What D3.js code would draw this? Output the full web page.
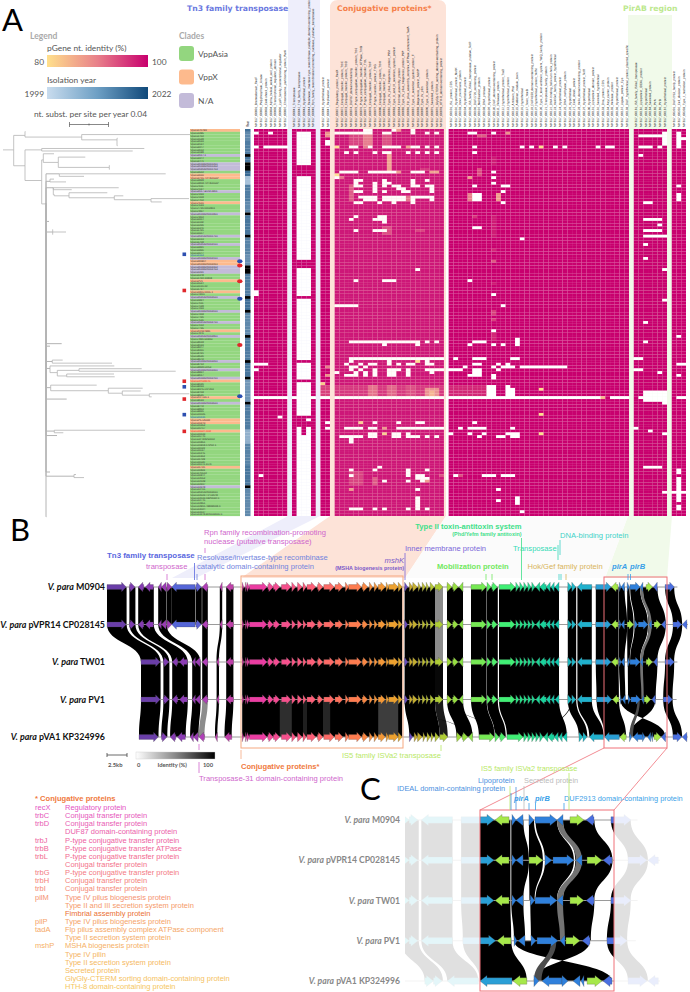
<!DOCTYPE html>
<html>
<head>
<meta charset="utf-8">
<script src="https://d3js.org/d3.v7.min.js"></script>
<style>
  html, body { margin: 0; padding: 0; background: #fff; }
  svg { display: block; }
</style>
</head>
<body>
<svg id="chart" width="690" height="992"></svg>
<script>
'use strict';

// ---- panel A data ----
var columnNames = [
  'MK817_00001_Bromodomain_RecF','MK817_00002_Polyphosphate_kinase','MK817_00003_Cold-shock_protein','MK817_00004_Alpha_helical_coiled_coil_protein',
  'MK817_00005_Transcriptional_regulator_domain','MK817_00006_LysR_family_transcriptional_regulator','MK817_00007_Chromosome_partitioning_protein_ParA',null,
  'MK817_00041_Transposase','MK817_00042_Tn3_family_transposase','MK817_00043_Hypothetical_protein','MK817_00044_Resolvase_invertase-type_recombinase_catalytic_domain-containing_protein','MK817_00045_Rpn_family_recombination-promoting_nuclease_putative_transposase',null,
  'MK817_00046_Hypothetical_protein','MK817_00047_Replication_protein',null,
  'MK817_00071_Regulatory_protein_RecX','MK817_00072_Conjugal_transfer_protein_TrbC','MK817_00073_Conjugal_transfer_protein_TrbD','MK817_00074_DUF87_domain-containing','MK817_00075_P-type_conjugative_transfer_protein_TrbJ','MK817_00076_P-type_conjugative_transfer_ATPase_TrbB','MK817_00077_P-type_conjugative_transfer_TrbL','MK817_00078_Conjugal_transfer_protein_TrbF','MK817_00079_P-type_transfer_protein_TrbG','MK817_00080_Conjugal_transfer_protein_TrbH','MK817_00081_Conjugal_transfer_TrbI','MK817_00082_Type_IV_pilus_biogenesis_protein_PilM','MK817_00083_Type_II_and_III_secretion_system_protein','MK817_00084_Fimbrial_assembly_protein','MK817_00085_Type_IV_pilus_biogenesis_protein_PilP','MK817_00086_Flp_pilus_assembly_complex_ATPase_component_TadA','MK817_00087_Type_II_secretion_system_protein_F','MK817_00088_Biogenesis_protein_MshP','MK817_00089_Type_IV_pilin','MK817_00090_Type_II_secretion_protein','MK817_00091_Secreted_protein','MK817_00092_GlyGly-CTERM_sorting_domain-containing_protein','MK817_00093_HTH-8_domain-containing_protein',null,
  'MK817_00101_ISL_protein_CDS','MK817_00102_Hypothetical_protein_MshK','MK817_00103_Inner_membrane_protein','MK817_00104_Hypothetical_protein','MK817_00105_IS5_family_ISVa2_transposase_putative_TetR','MK817_00106_DUF2726_containing_protein','MK817_00107_Mobilization_protein','MK817_00108_DNA_primase','MK817_00109_Hypothetical_protein','MK817_00110_DUF_domain-containing_protein','MK817_00111_Relaxase_protein','MK817_00112_Hypothetical_protein_TraD','MK817_00113_Hypothetical_protein','MK817_00114_Antitoxin_Phd','MK817_00115_Addiction_module_toxin','MK817_00116_Hypothetical','MK817_00117_Toxin_YoeB','MK817_00118_DUF4158_domain-containing_protein','MK817_00119_Hypothetical_protein_YefM','MK817_00120_Type_II_toxin-antitoxin_system_YafQ_family_protein','MK817_00121_Transposase_family_protein','MK817_00122_DNA-binding_helix-turn-helix_protein','MK817_00123_Hok/Gef_family_protein_hypothetical','MK817_00124_Hypothetical_protein','MK817_00125_DNA_methylase_protein','MK817_00126_Hypothetical','MK817_00127_Cold_shock_protein','MK817_00128_Helix_domain-containing_protein','MK817_00129_Hypothetical_protein_TetR','MK817_00130_Hypothetical','MK817_00131_Lipoprotein_domain_protein','MK817_00132_Secreted_hypothetical','MK817_00133_Dna_protein_CDS','MK817_00134_Acyl_carrier_protein','MK817_00135_Helicase_protein','MK817_00136_Hypothetical_protein','MK817_00137_Ligase_protein_Cys','MK817_00138_DUF_hypothetical_protein_plasmid_specific',null,
  'MK817_00181_IS5_family_ISVa2_transposase','MK817_00182_Lipoprotein_IDEAL_protein','MK817_00183_Hypothetical','MK817_00184_Secreted_protein','MK817_00185_PirA','MK817_00186_PirB','MK817_00187_Hypothetical_protein',null,
  'MK817_00201_DUF2913_family_protein','MK817_00202_Cell_division_protein','MK817_00203_Type_I_restriction_protein'
];

var strainNames = ('Vpara040493 Vpara1295 Vpara1412 Vpara1528 Vpara2033 Vpara2134 Vpara2247 Vpara3012 Vpara3198 Vpara2017-1 Vpara3344 Vpara3471 Vpara2019AP0001251 Vpara2019AP0001352 Vpara2020AP0001453 Vpara3562 Vpara3650 Vpara3715-TPTG15HP Vpara3828 Vpara3919-TPTG16HP Vpara4011 Vpara4127 Vpara2017-BOM-2901 Vpara4233 Vpara4318 Vpara4402 Vpara4516 Vpara4623 Vpara4720-0002801 Vpara4837 Vpara2018AP0001851 Vpara4912 Vpara5004 Vpara5119 Vpara5230 Vpara5346 Vpara5421 Vpara5507 Vpara2021AP0001751 Vpara5613 Vpara5708 Vpara2020AP0002151 Vpara5821 Vpara5936 Vpara6047 Vpara6152 Vpara2019AP0002151 VparaM0904 Vpara2018AP0002251 Vpara2018AP0002352 Vpara2018AP0002453 Vpara6231 Vpara6348 Vpara6422-10818 VparaPV1 Vpara6534 Vpara6610-22 Vpara6727 Vpara6815-0005-1 VparaTW01 Vpara2020AP0002551 Vpara6924 Vpara7011 Vpara7128 Vpara7233 Vpara2019AP0002651 Vpara7319 Vpara7420 Vpara7536 Vpara2021AP0002751 Vpara7612 Vpara7735 VparaKP324996 Vpara7840 Vpara2020AP0002851 Vpara7926-5030H Vpara8018 Vpara8133 Vpara8247 Vpara8316 Vpara8421 Vpara8530 Vpara8642 Vpara2018AP0003251 Vpara8712 Vpara8828-UP53 Vpara2018AP0003351 Vpara8934 Vpara9017 Vpara2019AP0003451 VparaCP028145 Vpara9120 Vpara9233 Vpara9345-OP-203 Vpara9419 Vpara9526 VparaKP-136-1 Vpara9633 Vpara2019AP0003551 Vpara9742 Vpara9813 Vpara9920 Vpara10025 Vpara10131 VparaPS-UNAM Vpara10243 Vpara10352 Vpara10417 Vpara10524-11M Vpara10633 Vpara10740 VparaDP-WGS0002 Vpara10851 Vpara10918-14P02-1 Vpara11022 Vpara11137 Vpara11245 Vpara11352 Vpara11429 Vpara11530 Vpara11641-1170 Vpara11726 Vpara11833 Vpara040512 Vpara11944 Vpara12052 Vpara12129 Vpara12237 Vpara12348 Vpara12415 Vpara2021AP0003651 Vpara12522-TP-12048 Vpara12633-19P0032-0 Vpara12740 Vpara12851 Vpara12916-49829008-0 Vpara13024 Vpara13137 Vpara13248-9P0033000-0 Vpara13317').split(' ');

// clade of each row is VppAsia unless listed here
var vppXRows = [0,16,17,26,47,48,54,58,72,90,96,104,105,108,121];
var naRows = [9,12,13,14,22,30,38,41,46,49,50,51,60,65,69,74,83,86,89,98,128];
var redLabelRows = [90,108];
var blueLabelRows = [45,103];

// isolation year: [first row, last row, year]
var yearRuns = [[0,0,2016],[1,3,2012],[4,8,2014],[10,11,2015],[15,16,2017],[17,19,2003],[20,25,2014],[26,29,2012],[31,37,2015],[39,44,2013],[45,48,2011],[52,59,2014],[61,64,2016],[66,73,2012],[75,82,2014],[84,88,2015],[90,97,2010],[99,107,2014],[108,112,2006],[113,120,2013],[121,127,2015],[129,138,2012]];

// missing genes: [first row, last row, first column, last column]
var missingCells = [
  [1,1,0,0],[1,1,3,3],[6,6,0,0],[6,6,2,6],[58,59,0,0],[84,84,0,2],[86,86,0,0],[103,103,5,5],[124,124,1,1],
  [1,8,9,11],[9,12,9,11],[17,22,9,11],[23,26,9,11],[27,38,9,11],[39,41,9,11],[42,46,9,11],[50,54,9,11],[55,57,9,11],[58,59,9,11],[61,65,9,11],[66,69,9,11],[70,72,9,11],[73,74,9,11],[75,82,9,11],[84,89,9,11],[91,102,9,11],[104,104,11,11],[107,109,9,9],[107,109,11,11],[110,121,9,11],[122,138,9,11],
  [4,5,15,15],[105,105,15,15],[107,107,15,15],
  [1,1,17,22],[0,1,23,24],[1,1,27,28],[0,0,29,29],[0,1,33,33],[1,1,36,36],[1,1,38,38],
  [6,6,20,21],[6,6,24,24],[6,6,27,30],[6,6,33,33],[6,6,34,34],[6,6,36,36],[6,6,38,38],
  [8,8,19,19],[8,8,21,21],[8,8,25,25],[8,8,27,28],[8,8,32,32],[8,8,34,34],[8,8,36,36],[8,8,38,38],
  [15,15,18,21],[15,15,24,29],[15,15,33,33],[15,15,34,35],[17,17,17,17],
  [18,18,21,22],[18,18,27,27],[18,18,33,33],[18,18,36,36],[19,19,21,21],[19,19,25,25],[19,19,27,28],[19,19,33,33],
  [20,20,21,22],[20,20,25,25],[20,20,27,27],[20,20,29,30],[20,20,33,34],[20,20,36,37],[21,21,25,25],[21,21,30,31],[21,21,37,37],
  [22,22,21,22],[22,22,25,25],[22,22,27,27],[22,22,31,32],[22,22,37,37],
  [24,24,22,25],[24,24,27,31],[24,24,33,34],[24,24,35,37],[25,25,23,25],[25,25,27,31],[25,25,33,33],[25,25,37,37],
  [26,26,21,22],[26,26,26,26],[26,26,29,29],[26,26,33,33],
  [31,31,21,21],[31,31,26,27],[32,32,20,20],[32,32,25,27],[33,33,27,27],[36,36,21,21],[36,36,25,27],
  [50,50,34,34],[54,54,21,21],[54,54,27,28],[54,54,29,29],[63,63,17,20],[63,63,21,21],
  [76,76,20,34],[77,77,27,27],[77,77,34,34],[76,76,36,36],[76,76,38,38],
  [82,82,20,37],[82,82,38,39],[83,83,20,20],[83,83,28,28],[83,83,36,36],
  [84,84,19,19],[84,84,22,22],[84,84,24,25],[84,84,28,28],[84,84,30,30],[84,84,32,33],[84,84,36,37],
  [85,85,20,21],[85,85,23,23],[86,86,20,20],[86,86,22,22],[86,86,25,25],[86,86,28,30],[86,86,32,32],[86,86,36,39],[86,86,41,43],
  [87,87,17,17],[87,87,21,21],[87,87,23,23],[87,87,25,25],[87,87,28,29],[87,87,32,32],[87,87,37,37],
  [88,88,19,21],[88,88,23,23],[88,88,25,25],[88,88,28,29],[88,88,32,32],
  [105,105,25,25],[105,105,30,30],[105,105,34,35],
  [107,107,19,22],[107,107,24,25],[107,107,30,37],[107,107,38,39],[109,109,24,25],[109,109,29,30],[109,109,32,32],[110,110,18,22],[110,112,20,20],[110,110,24,25],[110,110,29,30],[110,110,32,34],[110,110,36,36],[110,110,38,38],
  [121,121,26,26],[122,122,20,20],[122,122,25,25],[122,124,32,32],[122,122,36,36],[124,124,20,20],[124,124,34,35],[125,125,34,36],[126,126,27,27],[126,126,32,32],[126,126,35,35],[129,129,34,34],[132,135,34,34],[136,136,20,22],[136,136,25,25],[136,136,27,27],[136,136,32,32],[136,136,34,34],[136,136,36,36],
  [1,1,45,46],[1,1,50,50],[6,6,46,46],[6,6,56,56],[6,6,58,58],[6,6,63,63],[6,6,65,65],[6,6,72,72],[6,6,74,75],[6,6,79,79],[6,6,81,83],[6,6,85,85],[6,6,89,89],
  [2,2,79,79],[2,2,81,86],[1,5,86,87],[1,5,89,89],[3,3,89,90],[8,8,46,46],[9,9,81,81],[11,14,79,79],
  [15,15,50,50],[17,17,50,50],[19,19,50,50],[20,20,46,46],[20,20,52,53],[20,20,89,89],[22,22,52,52],[23,25,46,47],[23,25,89,89],[26,26,52,52],[26,26,82,83],
  [32,32,82,85],[34,34,85,85],[35,35,46,47],[36,36,82,85],[38,38,82,86],[39,39,56,56],[41,41,82,82],[46,46,82,82],[50,50,86,87],[54,54,45,45],[59,59,50,50],[61,61,86,87],[63,63,52,52],[69,69,82,82],
  [72,72,50,50],[74,74,79,79],[74,74,89,89],[75,77,55,55],[75,75,87,87],[76,76,46,48],[76,76,79,79],[76,76,82,82],[77,77,45,45],[77,77,50,50],[77,77,52,52],
  [82,82,42,42],[82,82,46,48],[82,82,54,55],[82,82,79,81],[84,84,46,47],[84,84,51,51],[84,84,53,53],[84,84,89,91],
  [85,85,44,44],[85,85,50,50],[85,85,52,54],[85,85,56,65],[86,88,46,47],[86,86,51,51],[86,86,79,81],[87,87,85,85],[88,88,45,47],[88,88,50,50],[88,88,89,89],[89,89,50,50],
  [92,95,49,50],[92,95,53,53],[93,95,54,54],
  [96,96,0,6],[96,96,8,12],[96,96,14,15],[96,96,17,39],[96,96,41,72],[96,96,75,79],[96,96,81,87],[96,96,89,91],[94,97,82,86],[98,98,86,86],
  [105,105,46,46],[107,107,43,43],[107,107,45,48],[107,107,54,54],[107,107,80,80],[108,108,83,83],[109,109,41,41],[109,109,45,45],[109,109,48,48],[109,109,53,55],[109,109,86,86],[110,110,47,47],[110,110,51,52],[110,110,54,55],
  [121,121,82,85],[122,123,89,89],[124,124,42,42],[124,124,48,50],[124,124,52,54],[125,131,89,89],[128,130,79,79],[129,129,51,51],[130,130,86,90],[133,133,51,51],[132,134,55,55],[132,133,89,89],[135,136,89,89],[137,137,56,56]
];

// below-100% identity: [first row, last row, first column, last column, identity]
var lowIdentityCells = [
  [1,2,15,15,88],[1,5,20,22,96],[1,6,23,24,91],[1,5,27,28,95],[0,0,30,30,88],
  [6,6,17,17,80],[6,6,32,32,87],[9,14,28,28,87],[15,15,30,30,88],[15,15,37,38,87],[16,16,17,17,80],[17,17,18,18,92],[20,25,20,20,94],[24,25,32,32,92],
  [14,14,35,36,97],[35,37,27,28,95],[36,36,34,35,96],
  [2,2,47,48,93],[1,1,53,53,88],[14,16,47,47,94],[17,17,45,45,87],[23,25,45,45,90],[23,25,51,51,87],[10,12,50,50,98],[31,38,50,50,98],[43,43,50,50,97],[47,47,50,50,93],[55,55,50,50,98],[65,66,50,50,95],[68,68,50,50,95],
  [31,31,46,46,96],[6,6,60,60,80],[73,75,50,50,97],
  [83,83,34,34,80],[85,85,59,59,80],[85,85,15,15,90],[88,88,15,15,88],
  [91,91,14,14,82],[92,95,14,15,95],[92,95,17,39,97],[92,95,24,25,92],[92,95,28,29,93],[92,95,32,33,95],[93,95,36,38,89],[94,95,37,37,85],[92,95,41,48,97],
  [93,93,60,60,80],[96,96,73,73,84],[102,102,60,60,80],
  [105,105,22,22,82],[105,105,46,46,90],[107,107,27,27,88],[109,109,27,27,82],[109,109,60,60,80],
  [123,127,20,22,96],[125,127,25,25,94],[126,126,36,36,88],[129,129,20,20,88],[124,124,43,43,94],[124,124,39,39,95]
];

// strain markers beside the tree and on the clade strip
var treeSquareRows = [[45,'blue'],[58,'red'],[90.6,'red'],[92.6,'blue'],[97,'red'],[102.6,'blue'],[108.6,'red']];
var cladeDotRows = [[47.5,'blue'],[49,'red'],[54.7,'red'],[61,'blue'],[77.6,'red'],[96,'blue']];

// tree: id, parent, distance, row
var treeNodes = [
  ['r',null,3,7],['n1','r',13.7,7],['n2','n1',25,1.8],['t0','n2',25.3,0.4],['n3','n2',81.7,2.4],['t1','n3',190,1.5],['n4','n3',117,3.4],['t2','n4',117.5,2.8],['t3','n4',117.5,5.5],
  ['n5','n1',25,12.7],['n6','n5',41.7,7],['t4','n6',144.3,6.5],['t5','n6',132.7,7.4],['n7','n5',41.7,18],['n8','n7',43.3,10.6],['t6','n8',54,8.4],['n9','n8',58.3,11.5],['t7','n9',85.3,9.6],['n9b','n9',109.3,13.3],['t7b','n9b',109.7,12.6],['t7c','n9b',109.7,14],
  ['bb','n7',46,26.4],['n10','bb',59.3,15.6],['t8','n10',165.7,15.6],['t9','n10',84,16.5],['n11','bb',50,18.3],['t10','n11',54,17.5],['t11','n11',66,18.5],
  ['n12','bb',53.3,20.6],['t12','n12',118.7,20.6],['t13','n12',71.7,21.3],['n13','n12',54.3,23.1],['n14','n13',69,23.5],['t14','n14',107.3,22.4],['n15','n14',114.3,24.2],['t15','n15',123.3,23.5],['n16','n15',151,24.9],['t16','n16',189,24.5],['t17','n16',161.7,25.7],
  ['t18','bb',49,32.7],['n17','bb',52.7,36.5],['t19','n17',66,36.5],['t19b','n17',52.9,35.6],['t19c','n17',52.9,37.4],['t20','bb',61.7,76.6],['t21','bb',50,77.5],
  ['n18','bb',52.3,83],['t22','n18',62.7,82.5],['t23','n18',112,83.6],['n19','bb',50,85.5],['t24','n19',114.3,84.6],['n20','n19',57.3,87],['n21','n20',79,86.2],['t25','n21',141.7,85.6],['t26','n21',175.7,86.5],['n22','n20',66.7,88.2],['t27','n22',114,87.5],['t28','n22',114.7,88.5],
  ['n23','bb',50.7,92.4],['t29','n23',96.7,91.5],['n24','n23',108.3,93.5],['t30','n24',142.7,92.6],['n25','n24',122.3,94.4],['t31','n25',140.7,93.6],['n26','n25',149.3,95.1],['t32','n26',189.3,94.6],['t33','n26',151.7,95.7],['t34','bb',66.7,96.5],
  ['n27','bb',54.3,108],['t35','n27',145,107.7],['t36','n27',63.3,108.6],['t37','bb',57,109.6],['t38','bb',50,122.7],['n28','bb',74,124.2],['t39','n28',76,123.6],['t40','n28',84,124.7],['bbEnd','bb',46.3,138.8]
];

// ---- panels B and C data (positions in kb) ----
var strains = [['V. para',' M0904'],['V. para',' pVPR14 CP028145'],['V. para',' TW01'],['V. para',' PV1'],['V. para',' pVA1 KP324996']];
var trackSpan = [[0,71.3],[0,72.6],[4.25,71.3],[4.25,71.2],[4,72.6]];

// start, end, strand of the genes shared by all plasmids
var sharedGenes = [
  [0,2.4,1],[2.8,3.5,1],[3.9,4.6,-1],[4.8,5.8,-1],[6.4,6.8,-1],[6.8,7.4,-1],[7.5,8.1,1],[8.1,11,-1],[11.1,11.8,1],[11.9,12.6,-1],[14.1,14.4,-1],[14.9,15.8,-1],
  [16.9,17.1,1],[17.3,17.5,1],[17.5,17.8,1],[17.8,20,1],[20.1,20.8,1],[20.8,21.6,1],[21.8,23,1],[23.1,23.6,1],[23.8,24.4,1],[24.5,24.9,1],[25,26.1,1],[26.3,27,1],[27.1,28.4,1],[28.5,29.5,1],
  [29.8,30.2,1],[30.2,31.8,1],[31.9,32.6,1],[32.8,33.2,1],[33.4,33.8,1],[33.9,34.8,1],[34.9,35.2,1],[35.2,36.4,1],[36.4,36.9,1],
  [37.2,37.6,1],[37.8,38.2,1],[38.2,38.8,1],[38.9,39.2,1],[39.4,39.8,1],[39.9,40.2,1],[40.4,40.9,1],[41,42,1],[42.5,43.1,1],[43.2,43.9,1],[44,44.5,-1],
  [45.5,47.4,1],[47.5,48,1],[48.1,48.8,1],[49,51,1],[51.1,51.5,1],[51.6,52,1],[52.1,52.5,1],[52.6,53,1],[53.1,53.5,1],[53.6,54.1,-1],[54.1,54.9,-1],[54.9,55.4,-1],[55.5,55.9,-1],[56,56.5,-1],
  [57.6,58.1,1],[58.1,58.6,1],[58.8,60.6,-1]
];
// [from kb, to kb, shift] on each plasmid relative to M0904
var trackShifts = [
  [],[],
  [[0,7.45,4.25],[14,14.5,-0.4]],
  [[0,7.45,4.25],[14,14.5,-0.4]],
  [[0,7.45,4],[11.8,12.7,-0.4],[14,14.5,-0.6],[14.8,15.9,-0.2],[37,42.1,0.6],[42.4,44.6,1.2],[45.4,56.6,1],[57.5,58.7,1.4],[58.7,60.7,1.5]]
];
var absentOnTrack = [null,null,[7.45,11.85],[7.45,11.85],[7.45,11.85]];

// genes of the PirAB region, different on each plasmid: start, end, strand, kind
var regionGenes = [
  [[61.1,63,1,'cyan'],[63.06,63.87,-1,'lime'],[64.04,64.27,1,'blue'],[64.27,64.68,-1,'blue'],[65.02,65.31,1,'blue'],[65.37,66.64,1,'blue'],[66.64,66.99,-1,'blue'],[67.39,68.2,1,'lime'],[68.32,68.78,-1,'royal'],[69.76,70.92,1,'royal']],
  [[61.1,63,1,'cyan'],[63.06,63.87,-1,'lime'],[64.04,64.27,1,'blue'],[64.27,64.68,-1,'blue'],[65.02,65.83,1,'lime'],[65.95,66.35,1,'blue'],[66.41,67.62,1,'blue'],[67.74,68.09,-1,'blue'],[68.38,69.24,1,'lime'],[69.3,69.82,-1,'royal'],[70.75,71.84,1,'royal'],[71.9,72.5,-1,'royal']],
  [[61.1,63,1,'cyan'],[63.06,63.87,-1,'lime'],[64.04,64.27,1,'blue'],[64.27,64.68,-1,'blue'],[65.1,65.35,1,'blue'],[65.37,66.64,1,'blue'],[66.64,66.99,-1,'blue'],[67.39,68.2,1,'lime'],[68.32,68.78,-1,'royal'],[69.76,70.92,1,'royal']],
  [[61.2,63.1,1,'cyan'],[63.17,63.98,-1,'lime'],[64.16,64.33,1,'blue'],[64.39,64.79,-1,'blue'],[65.14,65.43,1,'blue'],[65.49,66.7,1,'blue'],[66.82,67.1,-1,'blue'],[67.16,67.97,1,'lime'],[68.09,68.55,-1,'royal'],[69.53,70.7,1,'royal']],
  [[62.19,64.04,-1,'cyan'],[64.1,64.9,-1,'lime'],[65.31,65.6,1,'blue'],[65.77,66.93,-1,'blue'],[66.93,67.28,1,'blue'],[67.57,67.97,-1,'blue'],[68.03,68.2,-1,'blue'],[68.38,69.24,1,'lime'],[69.3,69.82,-1,'royal'],[70.75,71.84,1,'royal'],[71.9,72.5,-1,'royal']]
];

// conserved blocks in M0904 kb: from, to, identity to the next plasmid down (null = no match)
var conservedBlocks = [
  [0,2.45,[100,100,100,100]],[2.8,3.55,[100,100,100,100]],[3.9,5.85,[100,100,100,100]],[6.4,7.45,[100,100,100,100]],
  [7.5,8.1,[100,null,null,null]],[8.1,11.05,[100,null,null,null]],[11.1,11.85,[100,null,null,null]],[11.9,12.6,[100,100,100,45]],
  [14.1,14.4,[100,100,100,100]],[14.9,15.8,[100,100,100,100]],[16.9,36.9,[100,100,100,100]],[37.2,41,[100,100,100,100]],[41,42,[45,45,97,90]],
  [42.5,44.5,[100,100,100,100]],[45.5,47.45,[100,100,100,100]],[47.5,48.85,[100,100,100,100]],[49,56.5,[100,100,100,100]],[57.6,58.65,[100,100,100,100]],[58.8,60.6,[100,100,100,100]]
];
// lower identity stretches between PV1 and pVA1
var faintBlocks = [[21.6,23.1,82],[24.5,25,88],[27,27.9,85],[33.9,36.4,76]];

// matches of the PirAB region between neighbours: top from, top to, bottom from, bottom to, identity
var regionLinks = [
  [[61.1,63.95,61.1,63.95,100],[64,64.7,64,65.02,100],[65.02,65.31,65.02,65.83,100],[65.4,66.64,65.95,67.62,100],[66.99,68.8,67.7,69.85,100],[66.64,66.99,67.74,68.09,55],[69.76,70.9,70.75,71.9,100]],
  [[61.1,63.95,61.1,63.95,100],[64,65.02,64,64.7,100],[65.02,65.83,65.05,65.35,100],[65.95,67.62,65.4,66.64,100],[67.7,69.85,66.99,68.8,100],[67.74,68.09,66.64,66.99,55],[70.75,71.9,69.76,70.9,100]],
  [[61.1,63.95,61.2,64,100],[64,64.7,64.16,64.8,100],[65.1,68.8,65.14,68.6,100],[66.64,66.99,66.82,67.1,55],[69.76,70.9,69.53,70.7,100]],
  [[61.2,64,62.19,64.9,100],[64.16,68.55,69.82,65.31,100],[66.3,66.6,65.31,65.75,70],[69.53,70.7,70.75,71.9,100],[37.4,37.5,45,45.1,100],[42.9,43,48.9,49,100],[58,58.1,55.6,55.7,100]]
];

var conjugativeList = [
  ['recX','Regulatory protein'],['trbC','Conjugal transfer protein'],['trbD','Conjugal transfer protein'],['','DUF87 domain-containing protein'],
  ['trbJ','P-type conjugative transfer protein'],['trbB','P-type conjugative transfer ATPase'],['trbL','P-type conjugative transfer protein'],['','Conjugal transfer protein'],
  ['trbG','P-type conjugative transfer protein'],['trbH','Conjugal transfer protein'],['trbI','Conjugal transfer protein'],['pilM','Type IV pilus biogenesis protein'],
  ['','Type II and III secretion system protein'],['','Fimbrial assembly protein'],['pilP','Type IV pilus biogenesis protein'],['tadA','Flp pilus assembly complex ATPase component'],
  ['','Type II secretion system protein'],['mshP','MSHA biogenesis protein'],['','Type IV pilin'],['','Type II secretion system protein'],['','Secreted protein'],
  ['','GlyGly-CTERM sorting domain-containing protein'],['','HTH-8 domain-containing protein']
];

// ---- scales ----
var svg = d3.select('#chart');
var defs = svg.append('defs');
var SANS = '"Liberation Sans", Arial, sans-serif';

var col = d3.scaleBand().domain(d3.range(columnNames.length)).range([254, 686]);
var row = d3.scaleLinear().domain([0, 139]).range([129, 516]);
var treeX = d3.scaleLinear().domain([0, 190]).range([0, 190]);
var identityColor = d3.scaleLinear().domain([80, 90, 100]).range(['#ffdf8c', '#e8808a', '#c8006e']);
var yearColor = d3.scaleLinear().domain([1999, 2022]).range(['#c9dcee', '#10497a']);
var linkColor = d3.scaleLinear().domain([0, 100]).range(['#ffffff', '#000000']);
var geneColor = d3.scaleLinear()
  .domain([0, 5, 7.8, 8.1, 11, 11.9, 15, 17.5, 24, 30, 35, 36.9, 37.2, 37.7, 42, 47, 50, 53, 56, 58, 60.6])
  .range(['#6a3ea8', '#8c3cb4', '#a23cb4', '#5566d8', '#5566d8', '#b040b8', '#c040a8', '#ea3ca4', '#fb5a80', '#ff7a50', '#f0a030', '#d8a828', '#6a4cc0', '#c8a830', '#a8d838', '#60f060', '#30ee80', '#20d890', '#10c8b0', '#20b8c8', '#20a0d8']);
var kindColor = { cyan: '#2a9fd6', lime: '#a6e84a', blue: '#2f80dc', royal: '#4a6fe0' };

function addText(g, x, y, s, size, fill, o) {
  o = o || {};
  return g.append('text').attr('x', x).attr('y', y).text(s)
    .attr('font-family', o.family || SANS).attr('font-size', size).attr('fill', fill)
    .attr('font-weight', o.weight || null).attr('font-style', o.style || null)
    .attr('text-anchor', o.anchor || 'start');
}
function gradient(id, stops) {
  var lg = defs.append('linearGradient').attr('id', id);
  stops.forEach(function(c, i) {
    lg.append('stop').attr('offset', (i / (stops.length - 1) * 100) + '%').attr('stop-color', c);
  });
}
function tick(g, x, y0, y1, color) {
  g.append('line').attr('x1', x).attr('x2', x).attr('y1', y0).attr('y2', y1)
    .attr('stroke', color).attr('stroke-width', 0.8);
}

// ---- colored panels behind the heatmap, running down to panel B ----
var panels = svg.append('g');
panels.append('path').attr('d', 'M288,0H320V516L196,578H172L288,516Z').attr('fill', '#eeeefb');
panels.append('path').attr('d', 'M338,0H438Q446,0 446,8V516L405,578H241L330,516V8Q330,0 338,0Z').attr('fill', '#fde3d8');
panels.append('path').attr('d', 'M628,15H672V516L667,578H605L628,516Z').attr('fill', '#f1faea');
panels.append('path').attr('d', 'M446,516H628L605,578H405Z').attr('fill', '#fbfbfb');

// ---- panel A ----
var partA = svg.append('g');
addText(partA, 2, 31, 'A', 31, '#000', { family: 'Lato' });
addText(partA, 187, 11, 'Tn3 family transposase', 7.7, '#6a78e0', { family: 'DejaVu Sans', weight: 'bold' });
addText(partA, 337, 11, 'Conjugative proteins*', 7.7, '#f5804a', { family: 'DejaVu Sans', weight: 'bold' });
addText(partA, 623, 11, 'PirAB region', 7.7, '#bce88e', { family: 'DejaVu Sans', weight: 'bold' });

// legend
gradient('gradIdentity', ['#ffe08c', '#e8808a', '#c8006e']);
gradient('gradYear', ['#c9dcee', '#6d9fc4', '#10497a']);
gradient('gradLink', ['#ffffff', '#888888', '#000000']);
var legend = partA.append('g').attr('font-family', 'Lato');
addText(legend, 30, 39, 'Legend', 8.5, '#aaa', { family: 'Lato', weight: 'bold' });
addText(legend, 179, 39, 'Clades', 8.5, '#aaa', { family: 'Lato', weight: 'bold' });
addText(legend, 47, 51, 'pGene nt. identity (%)', 8.4, '#555', { family: 'Lato' });
legend.append('rect').attr('x', 47).attr('y', 55).attr('width', 101).attr('height', 12).attr('fill', 'url(#gradIdentity)');
addText(legend, 44, 65, '80', 8.4, '#555', { family: 'Lato', anchor: 'end' });
addText(legend, 152, 65, '100', 8.4, '#555', { family: 'Lato' });
addText(legend, 47, 83, 'Isolation year', 8.4, '#555', { family: 'Lato' });
legend.append('rect').attr('x', 47).attr('y', 87).attr('width', 101).attr('height', 12).attr('fill', 'url(#gradYear)');
addText(legend, 44, 97, '1999', 8.4, '#555', { family: 'Lato', anchor: 'end' });
addText(legend, 152, 97, '2022', 8.4, '#555', { family: 'Lato' });
addText(legend, 34, 117, 'nt. subst. per site per year 0.04', 8.4, '#555', { family: 'Lato' });
legend.append('path').attr('d', 'M69.5,122V127M69.5,124.5H108.5M108.5,122V127M89,123.5V125.5').attr('stroke', '#555').attr('stroke-width', 0.7).attr('fill', 'none');
var cladeKeys = [['VppAsia', '#93d67f'], ['VppX', '#fdba8d'], ['N/A', '#c3bbd9']];
cladeKeys.forEach(function(c, i) {
  legend.append('rect').attr('x', 179).attr('y', 46 + i * 23.5).attr('width', 15).attr('height', 15).attr('rx', 3).attr('fill', c[1]);
  addText(legend, 198, 56.5 + i * 23.5, c[0], 8.4, '#555', { family: 'Lato' });
});

// tree
var treeRoot = d3.stratify().id(function(d) { return d[0]; }).parentId(function(d) { return d[1]; })(treeNodes);
partA.append('g').attr('fill', 'none').attr('stroke', '#b4b4b4').attr('stroke-width', 0.8)
  .selectAll('path').data(treeRoot.links()).join('path')
  .attr('stroke-width', function(d) { return d.source.id === 'bb' ? 1 : 0.8; })
  .attr('d', function(d) {
    return 'M' + treeX(d.source.data[2]) + ',' + row(d.source.data[3] + 0.5) + 'V' + row(d.target.data[3] + 0.5) + 'H' + treeX(d.target.data[2]);
  });

// clade strip
var cladeOf = function(r) {
  if (vppXRows.indexOf(r) >= 0) return '#fdba8d';
  if (naRows.indexOf(r) >= 0) return '#c3bbd9';
  return '#93d67f';
};
var rows = d3.range(139);
partA.append('g').selectAll('rect').data(rows).join('rect')
  .attr('x', 190).attr('width', 50).attr('y', function(r) { return row(r); }).attr('height', row(1) - row(0) + 0.1)
  .attr('fill', cladeOf);
partA.append('g').attr('font-family', SANS).attr('font-size', 2.7).attr('text-rendering', 'geometricPrecision').selectAll('text').data(rows).join('text')
  .attr('x', 190.5).attr('y', function(r) { return row(r) + 2.2; })
  .attr('fill', function(r) { return redLabelRows.indexOf(r) >= 0 ? '#e03020' : blueLabelRows.indexOf(r) >= 0 ? '#2050c0' : '#333'; })
  .text(function(r) { return strainNames[r] || ''; });

// year strip
var yearAt = function(r) {
  var run = yearRuns.find(function(y) { return r >= y[0] && r <= y[1]; });
  return run ? yearColor(run[2]) : '#000';
};
partA.append('g').selectAll('rect').data(rows).join('rect')
  .attr('x', 245).attr('width', 5.5).attr('y', function(r) { return row(r); }).attr('height', row(1) - row(0) + 0.1)
  .attr('fill', yearAt);
addText(partA, 0, 0, 'Year', 3, '#222').attr('transform', 'translate(248.8,127) rotate(-90)');

// markers
var markerColor = { blue: '#2d4fb0', red: '#e0282c' };
partA.append('g').selectAll('rect').data(treeSquareRows).join('rect')
  .attr('x', 182.5).attr('width', 3.6).attr('y', function(d) { return row(d[0]) - 1.8; }).attr('height', 3.6)
  .attr('fill', function(d) { return markerColor[d[1]]; });
partA.append('g').selectAll('ellipse').data(cladeDotRows).join('ellipse')
  .attr('cx', 239.8).attr('cy', function(d) { return row(d[0]); }).attr('rx', 2.7).attr('ry', 2)
  .attr('fill', function(d) { return markerColor[d[1]]; });

// heatmap
var cells = [];
rows.forEach(function(r) {
  columnNames.forEach(function(name, c) { if (name) cells.push({ r: r, c: c }); });
});
var inRange = function(cell, k) { return cell.r >= k[0] && cell.r <= k[1] && cell.c >= k[2] && cell.c <= k[3]; };
cells.forEach(function(cell) {
  cell.missing = missingCells.some(function(k) { return inRange(cell, k); });
  var low = lowIdentityCells.filter(function(k) { return inRange(cell, k); }).pop();
  cell.identity = low ? low[4] : 100;
});
partA.append('g').selectAll('rect').data(cells).join('rect')
  .attr('x', function(d) { return col(d.c); }).attr('y', function(d) { return row(d.r); })
  .attr('width', col.bandwidth()).attr('height', row(1) - row(0))
  .attr('fill', function(d) { return d.missing ? '#fff' : identityColor(d.identity); });
// conjugative panel stays faintly visible over its cells
partA.append('rect').attr('x', col(17)).attr('y', row(0)).attr('width', col.step() * 23).attr('height', row(139) - row(0))
  .attr('fill', '#fde3d8').attr('opacity', 0.1);

// column labels
partA.append('g').attr('font-family', SANS).attr('font-size', 3.1).attr('fill', '#222').attr('text-rendering', 'geometricPrecision')
  .selectAll('text').data(columnNames.map(function(n, i) { return [n, i]; }).filter(function(d) { return d[0]; })).join('text')
  .attr('transform', function(d) { return 'translate(' + (col(d[1]) + 3.3) + ',127) rotate(-90)'; })
  .text(function(d) { return d[0]; });

// ---- genome maps, drawn for panel B and again for panel C ----
function shiftAt(t, kb) {
  var s = trackShifts[t].find(function(k) { return kb >= k[0] && kb <= k[1]; });
  return s ? s[2] : 0;
}
function placedGenes(t) {
  var out = [];
  sharedGenes.forEach(function(g) {
    var a = absentOnTrack[t];
    if (a && g[0] >= a[0] && g[1] <= a[1]) return;
    var d = shiftAt(t, g[0]);
    out.push({ a: g[0] + d, b: g[1] + d, dir: g[2], color: geneColor(g[0]) });
  });
  regionGenes[t].forEach(function(g) {
    out.push({ a: g[0], b: g[1], dir: g[2], color: kindColor[g[3]] });
  });
  return out;
}
function ribbon(x, y0, y1, a0, a1, b0, b1) {
  var m = (y0 + y1) / 2;
  return 'M' + x(a0) + ',' + y0 + 'C' + x(a0) + ',' + m + ' ' + x(b0) + ',' + m + ' ' + x(b0) + ',' + y1 +
    'L' + x(b1) + ',' + y1 + 'C' + x(b1) + ',' + m + ' ' + x(a1) + ',' + m + ' ' + x(a1) + ',' + y0 + 'Z';
}
function arrow(x, y, g, body, head, len) {
  var x0 = x(g.a), x1 = x(g.b), w = x1 - x0, l = Math.min(len, w);
  if (g.dir > 0) {
    return 'M' + x0 + ',' + (y - body) + 'H' + (x1 - l) + 'V' + (y - head) + 'L' + x1 + ',' + y + 'L' + (x1 - l) + ',' + (y + head) + 'V' + (y + body) + 'H' + x0 + 'Z';
  }
  return 'M' + x1 + ',' + (y - body) + 'H' + (x0 + l) + 'V' + (y - head) + 'L' + x0 + ',' + y + 'L' + (x0 + l) + ',' + (y + head) + 'V' + (y + body) + 'H' + x1 + 'Z';
}
function drawMaps(g, x, y, body, head, len) {
  var links = [];
  for (var p = 0; p < 4; p++) {
    conservedBlocks.forEach(function(b) {
      if (b[2][p] === null) return;
      links.push({ p: p, a0: b[0] + shiftAt(p, b[0]), a1: b[1] + shiftAt(p, b[0]), b0: b[0] + shiftAt(p + 1, b[0]), b1: b[1] + shiftAt(p + 1, b[0]), id: b[2][p] });
    });
    regionLinks[p].forEach(function(l) {
      links.push({ p: p, a0: l[0], a1: l[1], b0: l[2], b1: l[3], id: l[4] });
    });
  }
  faintBlocks.forEach(function(b) {
    links.push({ p: 3, a0: b[0], a1: b[1], b0: b[0], b1: b[1], id: b[2] });
  });
  g.append('g').selectAll('path').data(links).join('path')
    .attr('d', function(d) { return ribbon(x, y(d.p), y(d.p + 1), d.a0, d.a1, d.b0, d.b1); })
    .attr('fill', function(d) { return linkColor(d.id); });
  g.append('g').selectAll('line').data(trackSpan).join('line')
    .attr('x1', function(d) { return x(d[0]); }).attr('x2', function(d) { return x(d[1]); })
    .attr('y1', function(d, i) { return y(i); }).attr('y2', function(d, i) { return y(i); })
    .attr('stroke', '#9a9a9a').attr('stroke-width', 1);
  strains.forEach(function(s, t) {
    g.append('g').selectAll('path').data(placedGenes(t)).join('path')
      .attr('d', function(d) { return arrow(x, y(t), d, body, head, len); })
      .attr('fill', function(d) { return d.color; })
      .attr('stroke', '#444').attr('stroke-width', 0.25);
  });
}
function strainLabels(g, y, right, color, size) {
  strains.forEach(function(s, t) {
    var tx = addText(g, right, y(t) + 3, '', size, color, { family: 'Lato', weight: 'bold', anchor: 'end' });
    tx.append('tspan').attr('font-style', 'italic').text(s[0]);
    tx.append('tspan').text(s[1]);
  });
}

// ---- panel B ----
var partB = svg.append('g');
var xB = d3.scaleLinear().domain([0, 72.6]).range([107, 107 + 72.6 * 8]);
var yB = d3.scaleLinear().domain([0, 4]).range([587, 737]);
addText(partB, 10, 541, 'B', 31, '#000', { family: 'Lato' });
drawMaps(partB, xB, yB, 2.4, 4.8, 4.6);
strainLabels(partB, yB, 105, '#111', 8.9);
partB.append('rect').attr('x', 241).attr('y', 576).attr('width', 162).attr('height', 172).attr('fill', 'none').attr('stroke', '#f5a880').attr('stroke-width', 1);
partB.append('rect').attr('x', 604).attr('y', 577).attr('width', 63).attr('height', 171).attr('fill', 'none').attr('stroke', '#f07078').attr('stroke-width', 1);

var MAGENTA = '#cf66cc', SLATE = '#7283dd';
addText(partB, 204, 535, 'Rpn family recombination-promoting', 7.6, MAGENTA);
addText(partB, 204, 544, 'nuclease (putative transposase)', 7.6, MAGENTA);
addText(partB, 107, 558, 'Tn3 family transposase', 7.9, '#5a68e0', { weight: 'bold' });
addText(partB, 197, 560, 'Resolvase/invertase-type recombinase', 7.6, SLATE);
addText(partB, 197, 569, 'catalytic domain-containing protein', 7.6, SLATE);
addText(partB, 146, 569, 'transposase', 7.6, MAGENTA);
addText(partB, 404, 563, 'mshK', 7.6, '#7a58c8', { anchor: 'end', style: 'italic' });
addText(partB, 404, 570, '(MSHA biogenesis protein)', 5.4, '#7a58c8', { anchor: 'end', weight: 'bold' });
addText(partB, 521.5, 529, 'Type II toxin-antitoxin system', 7.6, '#3fe08a', { anchor: 'end', weight: 'bold' });
addText(partB, 521.5, 536, '(Phd/Yefm family antitoxin)', 5.4, '#3fe08a', { anchor: 'end', weight: 'bold' });
addText(partB, 560, 538, 'DNA-binding protein', 7.6, '#3fd2c8');
addText(partB, 405, 551, 'Inner membrane protein', 7.6, '#7a66d8');
addText(partB, 513, 551, 'Transposase', 7.6, '#35dab6');
addText(partB, 437, 569, 'Mobilization protein', 7.6, '#72e95f', { weight: 'bold' });
addText(partB, 527.5, 569, 'Hok/Gef family protein', 7.6, '#d8b45a');
addText(partB, 612, 569, 'pirA', 7.6, '#3a9fe8', { weight: 'bold', style: 'italic' });
addText(partB, 630, 569, 'pirB', 7.6, '#3a9fe8', { weight: 'bold', style: 'italic' });
addText(partB, 441, 758, 'IS5 family ISVa2 transposase', 7.6, '#b8e866', { anchor: 'end' });
addText(partB, 241, 769, 'Conjugative proteins*', 7.6, '#f07a40', { weight: 'bold' });
addText(partB, 199, 781, 'Transposase-31 domain-containing protein', 7.6, MAGENTA);

[[167, 574, 580, MAGENTA], [194.5, 563, 580, '#5a68e0'], [197, 574, 580, SLATE], [205, 548, 553, MAGENTA], [205, 574, 580, MAGENTA],
 [199, 744, 750, MAGENTA], [199, 762, 773, MAGENTA], [241, 750, 759, '#f5a880'], [405, 553, 580, '#7a66d8'], [486, 574, 580, '#72e95f'], [492, 574, 580, '#72e95f'],
 [521.5, 538, 580, '#3fe08a'], [558, 545, 560, '#35dab6'], [560, 540, 555, '#3fd2c8'], [559, 574, 580, '#3fd2c8'], [561, 574, 580, '#3fd2c8'], [566, 574, 580, '#d8b45a'],
 [628, 574, 580, '#3a9fe8'], [630.5, 574, 580, '#3a9fe8'], [441, 745, 751, '#b8e866']].forEach(function(t) { tick(partB, t[0], t[1], t[2], t[3]); });

// scale bar and identity key
partB.append('path').attr('d', 'M107,753V757M107,755H127M127,753V757').attr('stroke', '#444').attr('stroke-width', 0.8).attr('fill', 'none');
addText(partB, 108, 767, '2.5kb', 5.8, '#555', { family: 'Lato', weight: 'bold' });
partB.append('rect').attr('x', 136).attr('y', 752).attr('width', 79).attr('height', 7).attr('fill', 'url(#gradLink)').attr('stroke', '#ccc').attr('stroke-width', 0.4);
addText(partB, 137, 767, '0', 5.8, '#555', { family: 'Lato', weight: 'bold' });
addText(partB, 157.5, 767, 'Identity (%)', 5.8, '#555', { family: 'Lato', weight: 'bold' });
addText(partB, 203, 767, '100', 5.8, '#555', { family: 'Lato', weight: 'bold' });

// ---- conjugative protein list ----
var listColor = d3.scaleLinear().domain([0, 6, 12, 22]).range(['#e452c4', '#f26a90', '#f59a6a', '#f5c660']);
var list = svg.append('g');
addText(list, 35, 801, '* Conjugative proteins', 7.6, '#f07a40', { weight: 'bold' });
conjugativeList.forEach(function(d, i) {
  var y = 810 + i * 8.14, c = listColor(i);
  addText(list, 35, y, d[0], 7.5, c);
  if (d[1] === 'Fimbrial assembly protein') addText(list, 65, y, d[1], 7.5, '#ea7035');
  else addText(list, 65, y, d[1], 7.5, c);
});

// ---- panel C ----
var partC = svg.append('g');
var xC = d3.scaleLinear().domain([63, 72.6]).range([494, 494 + 9.6 * 17.3]);
var yC = d3.scaleLinear().domain([0, 4]).range([820, 981]);
defs.append('clipPath').attr('id', 'clipC').append('rect').attr('x', 405).attr('y', 808).attr('width', 285).attr('height', 184);
var mapsC = partC.append('g').attr('clip-path', 'url(#clipC)');
drawMaps(mapsC, xC, yC, 3.2, 5.6, 7);
// fade everything outside the PirAB window
partC.append('rect').attr('x', 405).attr('y', 808).attr('width', 75).attr('height', 184).attr('fill', '#fff').attr('opacity', 0.88);
partC.append('rect').attr('x', 614).attr('y', 808).attr('width', 76).attr('height', 184).attr('fill', '#fff').attr('opacity', 0.88);
partC.append('rect').attr('x', 480).attr('y', 810).attr('width', 134).attr('height', 181).attr('fill', 'none').attr('stroke', '#f07078').attr('stroke-width', 1);
partC.append('path').attr('d', 'M604,748L480,810M667,748L614,810').attr('stroke', '#f07078').attr('stroke-width', 0.8).attr('fill', 'none');
addText(partC, 360, 800, 'C', 31, '#000', { family: 'Lato' });
strainLabels(partC, yC, 400, '#888', 8.6);

var BLUE = '#4a90e0', SKY = '#3a9fe8', LIME = '#b8e866';
addText(partC, 481, 771, 'IS5 family ISVa2 transposase', 7.4, LIME);
addText(partC, 478, 783, 'Lipoprotein', 7.4, BLUE);
addText(partC, 524, 783, 'Secreted protein', 7.4, '#bbb');
addText(partC, 397, 791, 'IDEAL domain-containing protein', 7.4, BLUE);
addText(partC, 514, 801, 'pirA', 7.4, SKY, { weight: 'bold', style: 'italic' });
addText(partC, 535, 801, 'pirB', 7.4, SKY, { weight: 'bold', style: 'italic' });
addText(partC, 564, 801, 'DUF2913 domain-containing protein', 7.4, SKY);
[[510, 786, 810, LIME], [569, 773, 810, LIME], [516, 787, 810, BLUE], [511, 793, 810, BLUE], [524, 786, 810, '#bbb'], [529, 803, 810, SKY], [535.5, 803, 810, SKY], [564, 803, 810, SKY]]
  .forEach(function(t) { tick(partC, t[0], t[1], t[2], t[3]); });
</script>
</body>
</html>
